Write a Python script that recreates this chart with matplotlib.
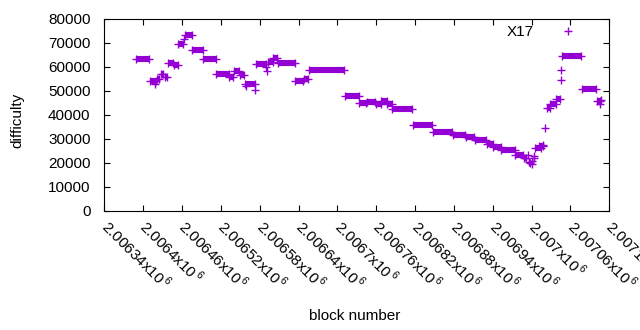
import numpy as np
import matplotlib
matplotlib.use("Agg")
import matplotlib.pyplot as plt

plt.rcParams['font.family'] = ['Liberation Sans', 'DejaVu Sans']
plt.rcParams['mathtext.fontset'] = 'custom'
plt.rcParams['mathtext.rm'] = 'Liberation Sans'

# runs of blocks with the same difficulty: first block, last block, difficulty
seg_start = [2006389, 2006410, 2006421, 2006427, 2006434, 2006438, 2006447, 2006454,
             2006464, 2006476, 2006493, 2006513, 2006533, 2006540, 2006549, 2006557,
             2006574, 2006593, 2006601, 2006608, 2006635, 2006648, 2006656, 2006711,
             2006734, 2006745, 2006759, 2006768, 2006777, 2006785, 2006816, 2006847,
             2006878, 2006898, 2006912, 2006931, 2006941, 2006953, 2006975, 2006988,
             2007005, 2007012, 2007023, 2007029, 2007038, 2007047, 2007078, 2007101]
seg_end = [2006409, 2006420, 2006425, 2006430, 2006437, 2006446, 2006453, 2006462,
           2006475, 2006492, 2006512, 2006532, 2006539, 2006548, 2006556, 2006573,
           2006589, 2006600, 2006607, 2006634, 2006647, 2006655, 2006710, 2006733,
           2006744, 2006758, 2006767, 2006776, 2006784, 2006815, 2006846, 2006877,
           2006897, 2006911, 2006930, 2006940, 2006952, 2006974, 2006986, 2006992,
           2007014, 2007017, 2007028, 2007037, 2007044, 2007077, 2007100, 2007106]
seg_diff = [63200, 54000, 55200, 57100, 55800, 61500, 60700, 69500,
            73500, 66900, 63200, 57000, 55900, 58200, 56700, 53100,
            61300, 62200, 63700, 61500, 54300, 55100, 58600, 47800,
            44900, 45300, 44600, 45700, 44500, 42400, 36000, 32800,
            31500, 30700, 29500, 27800, 26500, 25300, 23200, 22100,
            26100, 27100, 43000, 44500, 46800, 64400, 50700, 46000]

# single blocks
pt_block = [2006418, 2006463, 2006558, 2006572, 2006590, 2006591, 2006995, 2006996,
            2006998, 2007000, 2007001, 2007003, 2007004, 2007018, 2007020, 2007045,
            2007046, 2007105, 2007107]
pt_diff = [52900, 71500, 52100, 50600, 60100, 58400, 23300, 20600,
           20200, 20800, 19400, 22000, 23100, 27400, 34500, 54700,
           58600, 44600, 46200]

color = '#9400D3'

fig = plt.figure(figsize=(6.4, 3.3), dpi=100)
ax = fig.add_axes([104.4 / 640, 1 - 211 / 330, (609.3 - 104.4) / 640, (211 - 19) / 330])

ax.hlines(seg_diff, seg_start, seg_end, colors=color, linewidth=4.4)
ends_x = seg_start + seg_end
ends_y = seg_diff + seg_diff
ax.plot(ends_x, ends_y, '+', color=color, markersize=5.5, markeredgewidth=1.0)
ax.plot(pt_block, pt_diff, '+', color=color, markersize=5.5, markeredgewidth=1.0, label='X17')

ax.set_xlim(2006340, 2007120)
ax.set_ylim(0, 80000)
xt = np.arange(2006340, 2007121, 60)
ax.set_xticks(xt)
ax.set_xticklabels([r'%gx10$^{\,6}$' % (v / 1e6) for v in xt], rotation=-45,
                   ha='left', va='center', rotation_mode='anchor', fontsize=11.5)
ax.set_yticks(np.arange(0, 80001, 10000))

ax.tick_params(direction='in', top=True, right=True, length=4, width=0.8,
               labelsize=11, colors='black')
ax.tick_params(axis='x', pad=9)
ax.tick_params(axis='y', pad=10)
for s in ax.spines.values():
    s.set_linewidth(0.8)

ax.set_xlabel('block number', fontsize=11)
ax.xaxis.set_label_coords(0.496, -0.51)
ax.set_ylabel('difficulty', fontsize=11)
ax.yaxis.set_label_coords(-0.158, 0.47)

ax.legend(loc='upper right', bbox_to_anchor=(583 / 640, 1 - 25 / 330),
          bbox_transform=fig.transFigure, frameon=False, markerfirst=False,
          fontsize=11, handlelength=2, handletextpad=1.2, borderpad=0,
          borderaxespad=0)

fig.savefig('out.png', dpi=100)
